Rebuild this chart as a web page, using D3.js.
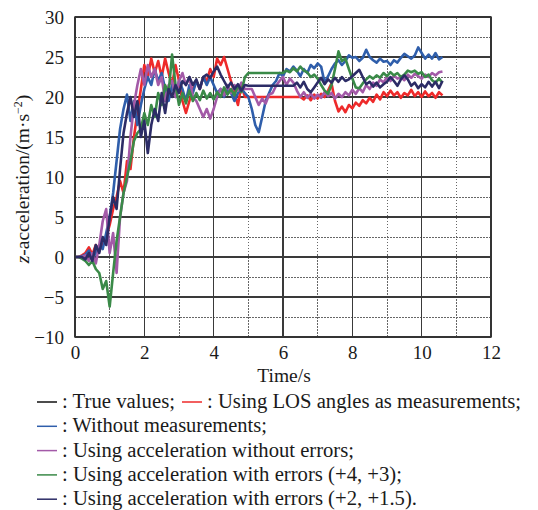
<!DOCTYPE html>
<html lang="en">
<head>
    <meta charset="UTF-8">
    <script src="https://d3js.org/d3.v7.min.js"></script>
</head>
<style>
    body {
        margin: 0;
        background-color: #ffffff;
    }
    .grid-major {
        stroke: #3a3a3a;
        stroke-width: 1.3px;
        shape-rendering: crispEdges;
    }
    .grid-minor {
        stroke: #666666;
        stroke-width: 1px;
        stroke-dasharray: 1.5, 1.5;
        shape-rendering: crispEdges;
    }
    .series {
        fill: none;
        stroke-width: 2.6px;
        stroke-linejoin: round;
    }
</style>
<body>
<svg id="viz" width="538" height="510"></svg>
<script>
    var serif = "'Liberation Serif', 'Times New Roman', Tinos, 'DejaVu Serif', serif";

    // sample times, 0.1 s apart, 0 .. 10.6 s
    var time = d3.range(0, 107).map(function(i) { return i / 10; });

    var xTicks = [0, 2, 4, 6, 8, 10, 12];
    var yTicks = [-10, -5, 0, 5, 10, 15, 20, 25, 30];

    // values (m/s^2)
    var losAngles = [
        0, 0, 0.2, 0.5, 1.2, 0.3, 1.5, 0.8, 1.5, 2.5,
        4, 6, 7.5, 9.5, 8, 12, 11, 15, 18, 21,
        24, 22.5, 24.8, 23, 24.5, 22.5, 24.8, 23, 21.5, 24,
        22, 19.5, 18, 19.5, 21, 22, 21, 22.5, 22, 23.5,
        22.5, 24.8, 24, 25, 23.5, 22, 20.5, 19, 21.5, 20,
        20, 20, 20, 20, 20, 20, 20, 20, 20, 20,
        20, 20, 20, 20, 20, 20, 19.7, 20.2, 19.6, 20.3,
        19.8, 20.4, 20, 20.8, 21.7, 19.5, 18.2, 18.8, 18.1, 19,
        18.6, 19.3, 18.9, 19.6, 19.2, 19.9, 19.4, 20.3, 19.7, 20.6,
        20.1, 20.8, 20.2, 20.6, 19.9, 20.5, 20.2, 20.9, 20.1, 20.6,
        20, 20.7, 20.1, 20.5, 19.9, 20.6, 20.2
    ];
    var noMeasure = [
        0, 0, 0.1, 0.3, 0.8, -0.3, 0.5, 1.5, 1, 3,
        5, 8, 12, 16, 18.5, 20.3, 17, 19.5, 16.5, 19,
        21, 22.5, 21.5, 23.5, 22, 23, 21, 19.5, 21.5, 20,
        22, 21, 19.5, 21.5, 20.5, 22, 21, 22.5, 21.5, 22.5,
        21.5, 20.5, 21, 20, 21, 20.5, 19.5, 20.5, 21, 20.5,
        20, 18.5, 16.5, 15.6, 17.5, 19.5, 20.5, 21.5, 22, 23,
        22.6, 23.5, 23.2, 23.8, 23.3, 22.6, 23.5, 23, 24, 23.6,
        24.2, 23.8, 21.8, 22.6, 23.5, 24.2, 24.6, 24, 24.5, 25.2,
        24.9, 25, 24.5, 24.9, 25.9, 25, 24.6, 24.3, 24.8, 24.4,
        24.5, 24, 24.6, 24.3, 24.9, 25.4, 25.1, 24.8, 25.2, 26.2,
        25.5, 24.8, 25.3, 24.8, 25.5, 24.7, 25
    ];
    var accNoError = [
        0, 0, 0, 0.2, -0.5, 0.5, -0.8, 1.5, 4.5, 6,
        0.5, 3, -2, 5, 8, 9.5, 15, 19, 21.5, 23.5,
        21.5, 24, 22.5, 23.5, 21.5, 22.5, 19.5, 21.5, 22, 20,
        22, 23, 21.5, 22.5, 20, 19.5, 18.5, 17.5, 18.5, 17.3,
        18.5, 20, 21, 20.2, 21.5, 20.5, 21.5, 20.8, 21.8, 21,
        21, 21, 20, 19, 19.8, 19.2, 20.3, 20.5, 21.4, 22,
        22.5, 21.5, 22.3, 21.8, 20.8, 20, 20.6, 19.9, 20.4, 19.8,
        20.3, 19.9, 20.6, 20.1, 20.5, 19.8, 20.4, 20, 20.6, 20.2,
        20.9, 20.4, 21.1, 20.6, 21.5, 21, 21.8, 21.4, 22.2, 21.8,
        22.5, 22, 22.7, 22.3, 22.5, 22.1, 22.8, 22.4, 22.9, 22.6,
        22.3, 22.8, 22.5, 23, 22.7, 23.1, 23.2
    ];
    var accError43 = [
        0, 0, -0.2, -0.5, -1, -0.5, -1.5, -2, -4, -3,
        -6.2, -2, 2, 5, 8, 10, 12, 14.5, 15.5, 16,
        18, 16.5, 19, 17.5, 20.5, 19, 21.5, 20.5, 25.3, 21.5,
        19, 20.5, 19.2, 20.8, 19.5, 20.5, 19.6, 20.8, 19.8, 20.5,
        19.7, 20.6, 20, 21.2, 20.3, 21, 20.2, 21.5, 20.6, 22.5,
        23, 23, 23, 23, 23, 23, 23, 23, 23, 23,
        23, 23.3, 23.1, 23.6, 23.2, 23.8, 23.3, 23.1, 22.5, 22.8,
        22.3, 21.5, 20.8, 20.4, 21.5, 23.5, 25.7, 24.5, 24.8, 23.5,
        22.3, 21.2, 21.1, 21.7, 22.2, 22.6, 22.3, 22.7, 22.4, 23,
        22.6, 23.1, 22.7, 23, 22.5, 22.8, 23.3, 23.1, 23.3, 22.9,
        23.1, 22.5, 22.8, 22.1, 21.8, 22.3, 21.8
    ];
    var accError215 = [
        0, 0, 0, -0.3, 0.5, -0.5, 1.5, 0.5, 2.5, 1.5,
        5, 7.5, 6, 11, 15.5, 18, 20, 17.5, 19.5, 15,
        17, 13, 16.5, 18.5, 17, 20.5, 18, 21, 20, 21.5,
        20.5, 22, 21.5, 22.5, 21.5, 22.2, 21, 22.5, 22.8, 22.4,
        23.2, 23.8, 22.8, 22, 21.2, 21.8, 21, 21.6, 20.8, 21.5,
        21.4, 21.4, 21.4, 21.4, 21.4, 21.4, 21.4, 21.4, 21.4, 21.4,
        21.4, 21.4, 21.4, 21.4, 21.8, 21.2, 21.9, 21, 20.6, 21.2,
        21.8, 22.4, 21.6, 22.2, 21.8, 22.4, 21.9, 22.5, 22, 22.2,
        22.6, 23, 23.4, 22.5, 21.6, 21.9, 21.3, 21.8, 21.2, 21.6,
        21.9, 22.5, 22, 21.4, 22.2, 22.7, 22.2, 21.4, 21.8, 21.1,
        21.6, 21.2, 21.9, 21.3, 21.9, 21.1, 22
    ];

    var legendItems = [
        {label: ": True values;", color: "#111111", width: 113},
        {label: ": Using LOS angles as measurements;", color: "#ee2a2a", width: 314},
        {label: ": Without measurements;", color: "#2f5eab", width: 205},
        {label: ": Using acceleration without errors;", color: "#a35aa8", width: 292},
        {label: ": Using acceleration with errors (+4, +3);", color: "#3a8a48", width: 340},
        {label: ": Using acceleration with errors (+2, +1.5).", color: "#2c2c66", width: 355}
    ];

    var svg = d3.select("#viz"),
        margin = {top: 17, right: 47, bottom: 173, left: 75},
        width = +svg.attr("width") - margin.left - margin.right,
        height = +svg.attr("height") - margin.top - margin.bottom;

    var x = d3.scaleLinear().domain([0, 12]).range([0, width]);
    var y = d3.scaleLinear().domain([-10, 30]).range([height, 0]);

    var g = svg.append("g")
        .attr("transform", "translate(" + margin.left + "," + margin.top + ")");

    // dotted minor grid
    g.append("g").selectAll("line")
        .data(d3.range(1, 12, 2))
        .enter().append("line")
        .attr("class", "grid-minor")
        .attr("x1", function(d) { return x(d); })
        .attr("x2", function(d) { return x(d); })
        .attr("y1", 0)
        .attr("y2", height);
    g.append("g").selectAll("line")
        .data(yTicks.slice(0, -1).map(function(d) { return d + 2.5; }))
        .enter().append("line")
        .attr("class", "grid-minor")
        .attr("y1", function(d) { return y(d); })
        .attr("y2", function(d) { return y(d); })
        .attr("x1", 0)
        .attr("x2", width);

    // solid major grid
    g.append("g").selectAll("line")
        .data(xTicks)
        .enter().append("line")
        .attr("class", "grid-major")
        .attr("x1", function(d) { return x(d); })
        .attr("x2", function(d) { return x(d); })
        .attr("y1", 0)
        .attr("y2", height);
    g.append("g").selectAll("line")
        .data(yTicks)
        .enter().append("line")
        .attr("class", "grid-major")
        .attr("y1", function(d) { return y(d); })
        .attr("y2", function(d) { return y(d); })
        .attr("x1", 0)
        .attr("x2", width);

    var line = d3.line()
        .x(function(d, i) { return x(time[i]); })
        .y(function(d) { return y(d); });

    var series = [
        {values: losAngles, color: legendItems[1].color},
        {values: noMeasure, color: legendItems[2].color},
        {values: accNoError, color: legendItems[3].color},
        {values: accError43, color: legendItems[4].color},
        {values: accError215, color: legendItems[5].color}
    ];

    g.append("g").selectAll("path")
        .data(series)
        .enter().append("path")
        .attr("class", "series")
        .attr("stroke", function(d) { return d.color; })
        .attr("d", function(d) { return line(d.values); });

    // axes: labels only, the grid does the lines
    var fmt = function(d) { return d < 0 ? "\u2212" + Math.abs(d) : d; };
    g.append("g")
        .attr("transform", "translate(0," + height + ")")
        .call(d3.axisBottom(x).tickValues(xTicks).tickSize(0).tickPadding(9).tickFormat(fmt));
    g.append("g")
        .call(d3.axisLeft(y).tickValues(yTicks).tickSize(0).tickPadding(11).tickFormat(fmt));
    svg.selectAll(".domain").remove();
    svg.selectAll(".tick text")
        .style("font-family", serif)
        .style("font-size", "19px")
        .style("fill", "#1a1a1a");

    g.append("rect")
        .attr("width", width)
        .attr("height", height)
        .attr("fill", "none")
        .attr("stroke", "#333333")
        .attr("stroke-width", 1.5);

    svg.append("text")
        .attr("x", margin.left + width / 2 + 1)
        .attr("y", 382)
        .attr("text-anchor", "middle")
        .style("font-family", serif)
        .style("font-size", "19.5px")
        .style("fill", "#1a1a1a")
        .text("Time/s");

    var yLabel = svg.append("text")
        .attr("transform", "translate(29," + (margin.top + height / 2 + 2) + ") rotate(-90)")
        .attr("text-anchor", "middle")
        .style("font-family", serif)
        .style("font-size", "19.5px")
        .style("fill", "#1a1a1a");
    yLabel.append("tspan").style("font-style", "italic").text("z");
    yLabel.append("tspan").text("-acceleration/(m\u00b7s");
    yLabel.append("tspan").style("font-size", "12px").attr("dy", -7).text("\u22122");
    yLabel.append("tspan").attr("dy", 7).text(")");

    // legend
    var rows = [
        [{item: legendItems[0], x: 37}, {item: legendItems[1], x: 182}],
        [{item: legendItems[2], x: 37}],
        [{item: legendItems[3], x: 37}],
        [{item: legendItems[4], x: 37}],
        [{item: legendItems[5], x: 37}]
    ];
    rows.forEach(function(row, r) {
        var base = 408 + r * 24.3;
        row.forEach(function(cell) {
            svg.append("line")
                .attr("x1", cell.x)
                .attr("x2", cell.x + 20)
                .attr("y1", base - 6)
                .attr("y2", base - 6)
                .attr("stroke", cell.item.color)
                .attr("stroke-width", 1.5);
            svg.append("text")
                .attr("x", cell.x + 25)
                .attr("y", base)
                .attr("textLength", cell.item.width)
                .attr("lengthAdjust", "spacingAndGlyphs")
                .style("font-family", serif)
                .style("font-size", "20px")
                .style("fill", "#1a1a1a")
                .text(cell.item.label);
        });
    });
</script>
</body>
</html>
